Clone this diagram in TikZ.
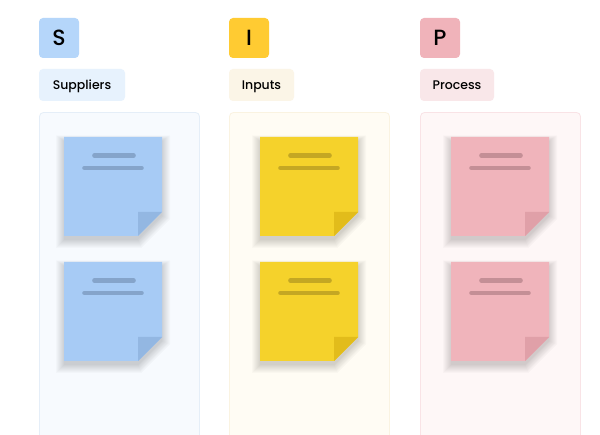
\documentclass[tikz,border=0pt]{standalone}
\usepackage{fontspec}
\setmainfont{Poppins}[UprightFont={* Medium}]
\definecolor{bNote}{HTML}{A7CBF5}
\definecolor{bFold}{HTML}{93B7E2}
\definecolor{bLine}{HTML}{85A4CA}
\definecolor{bHead}{HTML}{B5D6FA}
\definecolor{bLab}{HTML}{E7F2FD}
\definecolor{bPan}{HTML}{F7FAFE}
\definecolor{bPanB}{HTML}{E5EEF8}
\definecolor{yNote}{HTML}{F5D22B}
\definecolor{yFold}{HTML}{E2BC1B}
\definecolor{yLine}{HTML}{C4A723}
\definecolor{yHead}{HTML}{FFCB32}
\definecolor{yLab}{HTML}{FBF5E7}
\definecolor{yPan}{HTML}{FFFCF4}
\definecolor{yPanB}{HTML}{FAF3E1}
\definecolor{pNote}{HTML}{F0B4BB}
\definecolor{pFold}{HTML}{E0A0A8}
\definecolor{pLine}{HTML}{C48F96}
\definecolor{pHead}{HTML}{F0B3BA}
\definecolor{pLab}{HTML}{F9E7E9}
\definecolor{pPan}{HTML}{FEF7F7}
\definecolor{pPanB}{HTML}{F9E3E6}
\tikzset{
  headbox/.style={rounded corners=4pt, minimum width=40pt, minimum height=40pt, inner sep=0pt, text height=15.5pt, text depth=0pt, font=\fontsize{22}{24}\selectfont},
  labbox/.style={rounded corners=4pt, minimum height=32pt, inner sep=0pt, text height=9pt, text depth=0pt, font=\fontsize{12.5}{14}\selectfont},
  panel/.style={rounded corners=4pt, line width=0.8pt},
  shadowlayer/.style={fill=black, fill opacity=0.02},
  noteline/.style={line width=4.6pt, line cap=round}
}
\newcommand{\stickynote}[5]{% x, y(top), fill, fold, line
  \foreach \i in {0,...,8}{
    \fill[shadowlayer] (#1-\i,#2+4-\i*0.7) -- (#1+98+\i,#2+4-\i*0.7)
      -- (#1+98+\i,#2+79+0.414*\i) -- (#1+74+0.414*\i,#2+103+\i)
      -- (#1-\i,#2+103+\i) -- cycle;
  }
  \fill[#3] (#1,#2) -- ++(98,0) -- ++(0,75) -- ++(-24,24) -- ++(-74,0) -- cycle;
  \fill[#4] (#1+74,#2+75) -- ++(24,0) -- ++(-24,24) -- cycle;
  \draw[#5, noteline] (#1+30.5,#2+18.5) -- ++(39,0);
  \draw[#5, noteline] (#1+20.5,#2+31) -- ++(57,0);
}
\begin{document}
\begin{tikzpicture}[x=1pt, y=-1pt]
\useasboundingbox (0,0) rectangle (600,435);
\clip (0,0) rectangle (600,435);
\fill[white] (0,0) rectangle (600,435);
% panels
\draw[panel, fill=bPan, draw=bPanB] (39.5,112.5) rectangle (199.5,450);
\draw[panel, fill=yPan, draw=yPanB] (229.5,112.5) rectangle (389.5,450);
\draw[panel, fill=pPan, draw=pPanB] (420.5,112.5) rectangle (580.5,450);
% heads
\node[headbox, fill=bHead] (hS) at (59,38) {S};
\node[headbox, fill=yHead] (hI) at (249,38) {I};
\node[headbox, fill=pHead] (hP) at (440,38) {P};
% labels
\node[labbox, fill=bLab, minimum width=86pt] (lS) at (82,85) {Suppliers};
\node[labbox, fill=yLab, minimum width=65pt] (lI) at (261.5,85) {Inputs};
\node[labbox, fill=pLab, minimum width=74pt] (lP) at (457,85) {Process};
% notes
\stickynote{64}{137}{bNote}{bFold}{bLine}
\stickynote{64}{262}{bNote}{bFold}{bLine}
\stickynote{260}{137}{yNote}{yFold}{yLine}
\stickynote{260}{262}{yNote}{yFold}{yLine}
\stickynote{451}{137}{pNote}{pFold}{pLine}
\stickynote{451}{262}{pNote}{pFold}{pLine}
\end{tikzpicture}
\end{document}
